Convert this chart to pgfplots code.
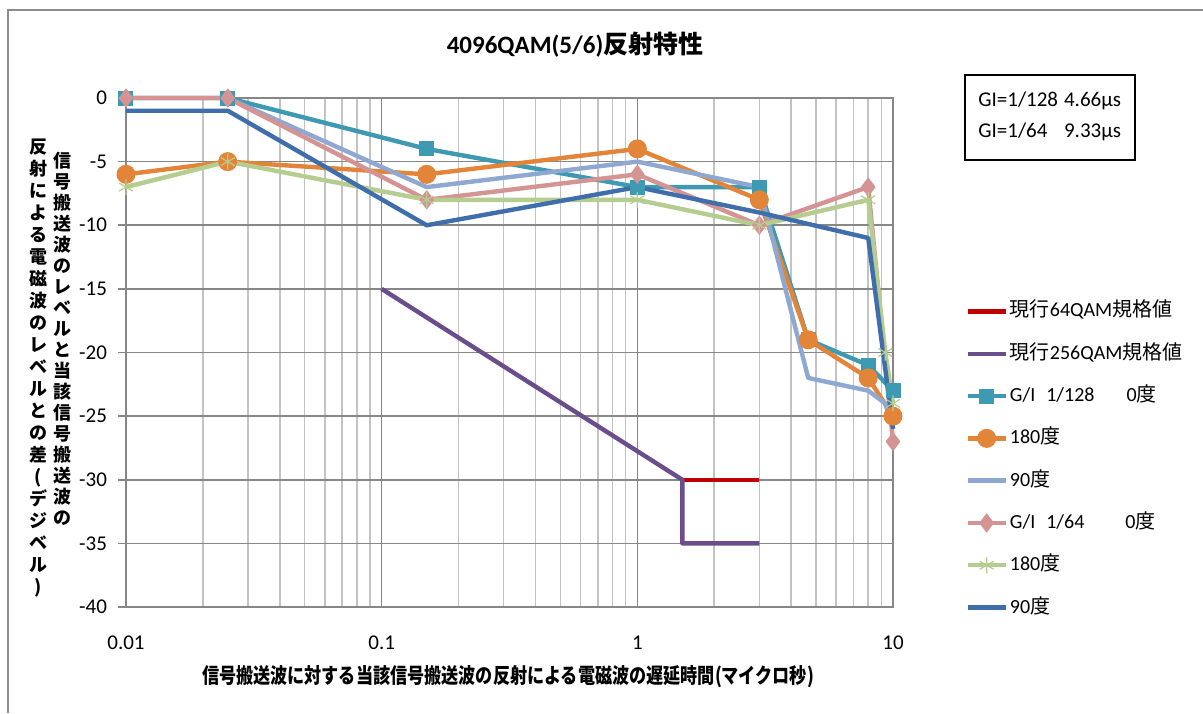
\documentclass[border=0pt]{standalone}
\usepackage{fontspec}
\setmainfont{Carlito}
\newfontfamily\cjk{Noto Sans CJK JP}
\usepackage{pgfplots}
\pgfplotsset{compat=1.18}

\definecolor{cRed}{RGB}{192,0,0}
\definecolor{cPurple}{RGB}{106,78,140}
\definecolor{cTeal}{RGB}{62,154,178}
\definecolor{cOrange}{RGB}{227,133,56}
\definecolor{cLBlue}{RGB}{142,168,210}
\definecolor{cPink}{RGB}{212,148,148}
\definecolor{cGreen}{RGB}{181,205,142}
\definecolor{cDBlue}{RGB}{63,110,170}
\definecolor{majgrid}{RGB}{135,135,135}
\definecolor{mingrid}{RGB}{195,195,195}

\begin{document}
\begin{tikzpicture}
% page frame: 1px = 0.5pt, plot area lower-left at origin
\fill[white] (-63pt,-53pt) rectangle (538.5pt,303.5pt);
\path[use as bounding box] (-63pt,-53pt) rectangle (538.5pt,303.5pt);
\draw[black!45, line width=1pt] (-59pt,-53pt) -- (-59pt,298.5pt) -- (538.5pt,298.5pt);

\begin{axis}[
    at={(0,0)}, anchor=south west,
    scale only axis,
    width=383.5pt, height=254.5pt,
    xmode=log,
    xmin=0.01, xmax=10, ymin=-40, ymax=0,
    xtick={0.01,0.1,1,10},
    xticklabels={0.01,0.1,1,10},
    minor xtick={0.02,0.03,0.04,0.05,0.06,0.07,0.08,0.09,0.2,0.3,0.4,0.5,0.6,0.7,0.8,0.9,2,3,4,5,6,7,8,9},
    ytick={-40,-35,-30,-25,-20,-15,-10,-5,0},
    yticklabels={-40,-35,-30,-25,-20,-15,-10,-5,0},
    xmajorgrids, xminorgrids, ymajorgrids,
    major grid style={majgrid, line width=0.8pt},
    minor grid style={mingrid, line width=0.8pt},
    axis line style={majgrid, line width=0.8pt},
    x tick style={draw=none},
    minor x tick style={draw=none},
    y tick style={majgrid, line width=0.8pt},
    tick align=outside, ytick pos=left,
    major tick length=4pt,
    tick label style={font=\fontsize{10.5}{12}\selectfont},
    xticklabel style={yshift=-7pt},
    yticklabel style={xshift=-2pt},
    clip=false,
    legend style={at={(1.094,0.606)}, anchor=north west, draw=none, fill=none,
        inner sep=0pt, row sep=8.65pt, font=\fontsize{10}{12}\selectfont,
        nodes={inner sep=1pt, text height=8pt, text depth=2.5pt}},
    legend cell align=left,
    legend image code/.code={\draw[mark repeat=2,mark phase=2] plot coordinates {(0pt,0pt) (9.5pt,0pt) (19pt,0pt)};},
    every axis plot/.append style={line width=2.2pt, line join=round},
]
\addplot[cRed, no marks] coordinates {(1.5,-30) (3,-30)};
\addlegendentry{{\cjk 現行}64QAM{\cjk 規格値}}
\addplot[cPurple, no marks] coordinates {(0.1,-15) (1.5,-30) (1.5,-35) (3,-35)};
\addlegendentry{{\cjk 現行}256QAM{\cjk 規格値}}
\addplot[cTeal, mark=square*, mark size=3.5pt, mark options={solid, fill=cTeal, line width=0.5pt}]
    coordinates {(0.01,0) (0.025,0) (0.15,-4) (1,-7) (3,-7) (4.66,-19) (8,-21) (10,-23)};
\addlegendentry{G/I\hspace{5.5pt}1/128\hspace{16pt}0{\cjk 度}}
\addplot[cOrange, mark=*, mark size=4.5pt, mark options={solid, fill=cOrange, line width=0.5pt}]
    coordinates {(0.01,-6) (0.025,-5) (0.15,-6) (1,-4) (3,-8) (4.66,-19) (8,-22) (10,-25)};
\addlegendentry{180{\cjk 度}}
\addplot[cLBlue, no marks]
    coordinates {(0.01,0) (0.025,0) (0.15,-7) (1,-5) (3,-7) (4.66,-22) (8,-23) (9.33,-24) (10,-26)};
\addlegendentry{90{\cjk 度}}
\addplot[cPink, mark=diamond*, mark size=4.5pt, mark options={solid, fill=cPink, line width=0.5pt}]
    coordinates {(0.01,0) (0.025,0) (0.15,-8) (1,-6) (3,-10) (8,-7) (10,-27)};
\addlegendentry{G/I\hspace{5.5pt}1/64\hspace{20.5pt}0{\cjk 度}}
\addplot[cGreen, mark=asterisk, mark size=4pt, mark options={solid, line width=0.6pt}]
    coordinates {(0.01,-7) (0.025,-5) (0.15,-8) (1,-8) (3,-10) (8,-8) (9.33,-20) (10,-24)};
\addlegendentry{180{\cjk 度}}
\addplot[cDBlue, no marks]
    coordinates {(0.01,-1) (0.025,-1) (0.15,-10) (1,-7) (3,-9) (8,-11) (10,-26)};
\addlegendentry{90{\cjk 度}}
\end{axis}

% title
\node[font=\bfseries\fontsize{12.5}{14}\selectfont] at (224.5pt,281pt) {4096QAM(5/6){\cjk 反射特性}};
% GI box
\draw[black, line width=0.8pt] (419.5pt,223.5pt) rectangle (504.5pt,266pt);
\node[anchor=west, inner sep=0pt, font=\fontsize{10.5}{12}\selectfont] at (426pt,245.5pt)
  {\renewcommand{\arraystretch}{1.29}\begin{tabular}{@{}l@{\hspace{3pt}}l@{}}GI=1/128 & 4.66µs\\ GI=1/64 & 9.33µs\end{tabular}};
% x label
\node[font=\cjk\bfseries\fontsize{10.5}{12}\selectfont] at (191pt,-35pt)
  {\scalebox{0.815}[1]{信号搬送波に対する当該信号搬送波の反射による電磁波の遅延時間(マイクロ秒)}};
% y label, two vertical columns
\node[align=center, inner sep=0pt, font=\cjk\bfseries\fontsize{9}{10.5}\selectfont] at (-31.5pt,134pt)
  {信\\号\\搬\\送\\波\\の\\レ\\ベ\\ル\\と\\当\\該\\信\\号\\搬\\送\\波\\の};
\node[align=center, inner sep=0pt, font=\cjk\bfseries\fontsize{9}{11}\selectfont] at (-44pt,119.5pt)
  {反\\射\\に\\よ\\る\\電\\磁\\波\\の\\レ\\ベ\\ル\\と\\の\\差\\(\\デ\\ジ\\ベ\\ル\\)};
\end{tikzpicture}
\end{document}
